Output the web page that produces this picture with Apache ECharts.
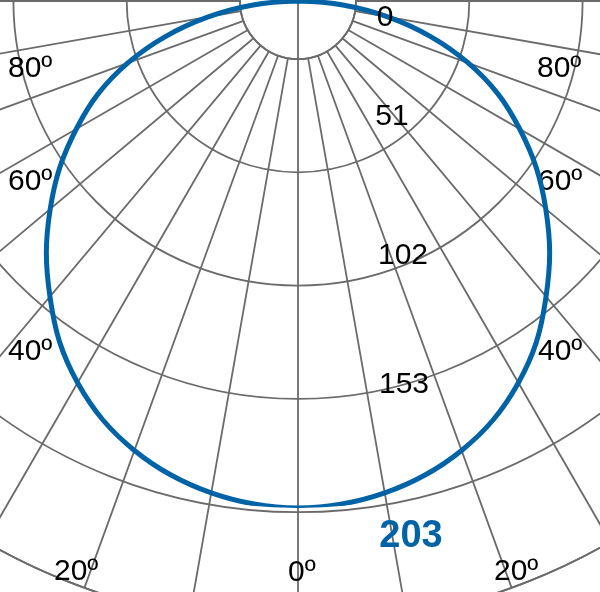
<!DOCTYPE html>
<html>
<head>
<meta charset="utf-8">
<script src="https://cdn.jsdelivr.net/npm/echarts@6/dist/echarts.min.js"></script>
<style>
  html, body { margin: 0; padding: 0; background: #fff; }
  #main { width: 600px; height: 592px; }
</style>
</head>
<body>
<div id="main"></div>
<script>
// angle from nadir (deg) and luminous intensity, symmetric curve
var angles    = [0, 5, 10, 15, 20, 25, 30, 35, 40, 45, 50, 55, 60, 65, 70, 75, 80, 85, 90];
var intensity = [203, 202.2, 200, 196.5, 191.5, 185, 176.5, 166.5, 154.5, 142.5, 129.5, 116.5, 102.5, 88.5, 72.5, 55, 36.5, 18, 0];

var radiusTicks = ['0', '51', '102', '153'];
var maxLabel = '203';
var angleTicks = ['0º', '20º', '40º', '60º', '80º'];

var gridColor = '#6b6b6b';
var curveColor = '#0063a6';
var cx = 298, cy = 1;

// curve, right side first (negative angles), then left side
var curve = [];
for (var i = angles.length - 1; i > 0; i--) curve.push([intensity[i], -angles[i]]);
for (var j = 0; j < angles.length; j++) curve.push([intensity[j], angles[j]]);

// label places
var radiusPos = [[385, 18], [392, 117], [403, 256], [404, 385]];
var anglePos = {
  '0º':  [[288, 573]],
  '20º': [[54, 572], [494, 572]],
  '40º': [[8, 352], [538, 352]],
  '60º': [[8, 182], [538, 182]],
  '80º': [[8, 69], [537, 69]]
};

var txt = { fontFamily: 'Liberation Sans, Arial, sans-serif', fontSize: 30, fill: '#000' };
var graphic = [{
  type: 'line', z: 3,
  shape: { x1: cx, y1: 0, x2: cx, y2: 58 },
  style: { stroke: gridColor, lineWidth: 1.8 }
}];
radiusTicks.forEach(function (t, k) {
  graphic.push({
    type: 'text', z: 10,
    style: Object.assign({}, txt, { text: t, x: radiusPos[k][0], y: radiusPos[k][1], textAlign: 'center', textVerticalAlign: 'middle' })
  });
});
angleTicks.forEach(function (t) {
  anglePos[t].forEach(function (p) {
    graphic.push({
      type: 'text', z: 1,
      style: Object.assign({}, txt, { text: t, x: p[0], y: p[1], textAlign: 'left', textVerticalAlign: 'middle' })
    });
  });
});
graphic.push({
  type: 'text', z: 10,
  style: Object.assign({}, txt, { text: maxLabel, x: 411, y: 537, fontSize: 38, fontWeight: 'bold', fill: curveColor, textAlign: 'center', textVerticalAlign: 'middle' })
});

var myChart = echarts.init(document.getElementById('main'));

var option = {
  backgroundColor: '#fff',
  animation: false,
  polar: [
    { center: [cx, cy], radius: [58, 58 + 5 * 113.3] },
    { center: [cx, cy], radius: [0, 507] }
  ],
  angleAxis: [{
    polarIndex: 0,
    type: 'value', min: 0, max: 360, interval: 10, startAngle: 90,
    axisLine: { show: true, lineStyle: { color: gridColor, width: 1.8 } },
    axisTick: { show: false },
    axisLabel: { show: false },
    splitLine: { show: true, lineStyle: { color: gridColor, width: 1.8 } }
  }, {
    polarIndex: 1,
    type: 'value', min: -180, max: 180, startAngle: 90,
    show: false
  }],
  radiusAxis: [{
    polarIndex: 0,
    type: 'value', min: 0, max: 255, interval: 51,
    axisLine: { show: false },
    axisTick: { show: false },
    axisLabel: { show: false },
    splitLine: { show: true, lineStyle: { color: gridColor, width: 1.8 } }
  }, {
    polarIndex: 1,
    type: 'value', min: 0, max: 203,
    show: false
  }],
  series: [{
    type: 'line',
    coordinateSystem: 'polar',
    polarIndex: 1,
    data: curve,
    smooth: 0.4,
    clip: false,
    symbol: 'none',
    z: 5,
    lineStyle: { color: curveColor, width: 5 }
  }],
  graphic: graphic
};

myChart.setOption(option);
</script>
</body>
</html>
